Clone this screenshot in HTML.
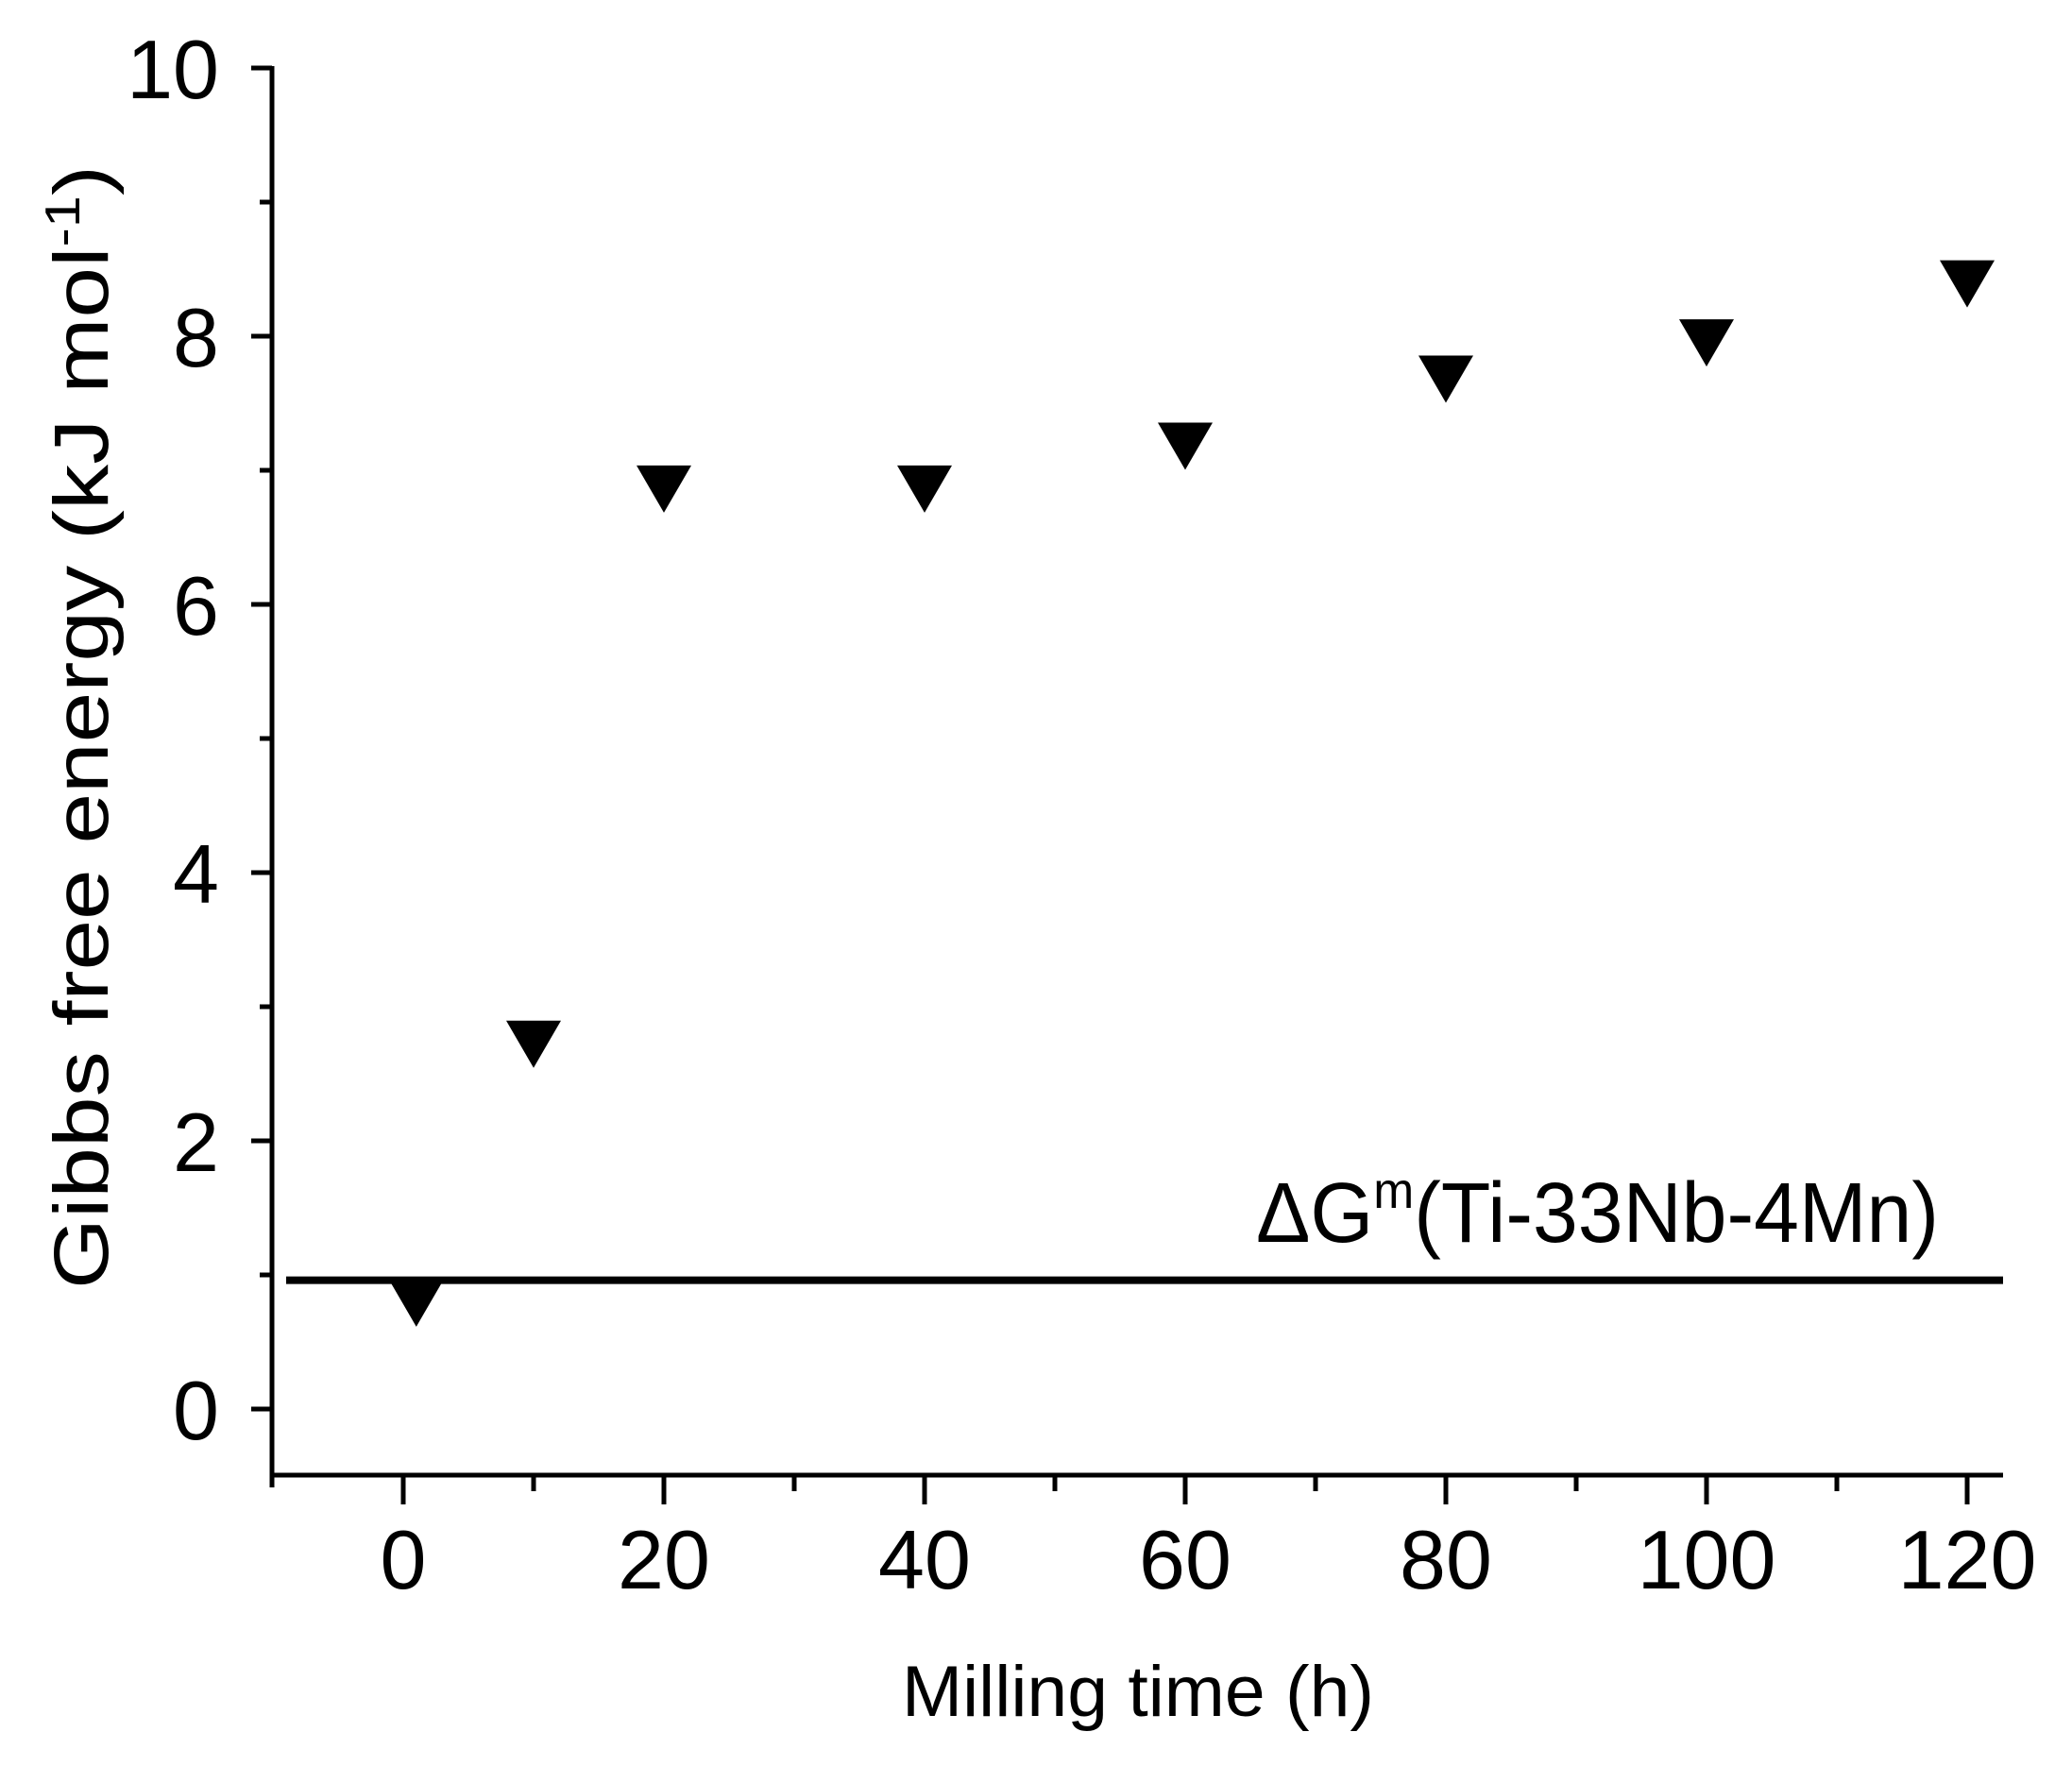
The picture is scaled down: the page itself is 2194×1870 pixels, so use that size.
<!DOCTYPE html>
<html><head><meta charset="utf-8"><style>
html,body{margin:0;padding:0;background:#fff;}
svg{display:block;}
text{font-family:"Liberation Sans",sans-serif;fill:#000;}
</style></head><body>
<svg id="chart" width="2194" height="1870" viewBox="0 0 2194 1870" xmlns="http://www.w3.org/2000/svg">
<g id="axes"></g>
<g id="marks"></g>
<text transform="translate(114,1365) rotate(-90)" font-size="82" textLength="1190" lengthAdjust="spacingAndGlyphs">Gibbs free energy  (kJ mol<tspan font-size="52" dy="-30">-1</tspan><tspan dy="30">)</tspan></text>
<text x="955" y="1817" font-size="76" textLength="500" lengthAdjust="spacingAndGlyphs">Milling time (h)</text>
<text x="1330" y="1315" font-size="90" textLength="723" lengthAdjust="spacingAndGlyphs">ΔG<tspan font-size="54" dy="-36">m</tspan><tspan dy="36">(Ti-33Nb-4Mn)</tspan></text>
</svg>
<script>
const categories = [1, 10, 20, 40, 60, 80, 100, 120];
const gibbsValues = [0.79, 2.72, 6.86, 6.86, 7.18, 7.68, 7.95, 8.39];
const referenceValue = [0.96];
const xTickLabels = ["0","20","40","60","80","100","120"];
const yTickLabels = ["0","2","4","6","8","10"];

const NS = "http://www.w3.org/2000/svg";
const X0 = 427, XS = 13.8, Y0 = 1492, YS = 142;
function xs(v){ return X0 + v*XS; }
function ys(v){ return Y0 - v*YS; }
const axes = document.getElementById('axes');
const marks = document.getElementById('marks');
function mk(tag, attrs, parent){
  const e = document.createElementNS(NS, tag);
  for (const k in attrs) e.setAttribute(k, attrs[k]);
  parent.appendChild(e);
  return e;
}
const L = 288, R = 2121, B = 1562, T = ys(10);
let e;
e = mk('line',{x1:L,y1:T-2,x2:L,y2:B+13,stroke:'#000','stroke-width':5},axes);


e = mk('line',{x1:L-2,y1:B,x2:R,y2:B,stroke:'#000','stroke-width':5},axes);


for (let v=0; v<=10; v++){
  const major = v%2===0;
  e = mk('line',{x1:L-(major?22:13),y1:ys(v),x2:L,y2:ys(v),stroke:'#000','stroke-width':5},axes);
  
  
}
yTickLabels.forEach((t)=>{
  const v = parseFloat(t);
  e = mk('text',{x:232,y:ys(v)+32,'font-size':88,'text-anchor':'end'},axes);
  e.textContent = t;
  
  
});
for (let v=0; v<=120; v+=10){
  const major = v%20===0;
  e = mk('line',{x1:xs(v),y1:B,x2:xs(v),y2:B+(major?31:17),stroke:'#000','stroke-width':5},axes);
  
  
}
xTickLabels.forEach((t)=>{
  const v = parseFloat(t);
  e = mk('text',{x:xs(v),y:1682,'font-size':88,'text-anchor':'middle'},axes);
  e.textContent = t;
  
  
});
e = mk('line',{x1:303,y1:ys(referenceValue[0]),x2:R,y2:ys(referenceValue[0]),stroke:'#000','stroke-width':8},marks);


categories.forEach((c,i)=>{
  const cx = xs(c), cy = ys(gibbsValues[i]);
  const w = 29, h = 25;
  e = mk('polygon',{points:`${cx-w},${cy-h} ${cx+w},${cy-h} ${cx},${cy+h}`,fill:'#000'},marks);
  
  
});
</script>
</body></html>
